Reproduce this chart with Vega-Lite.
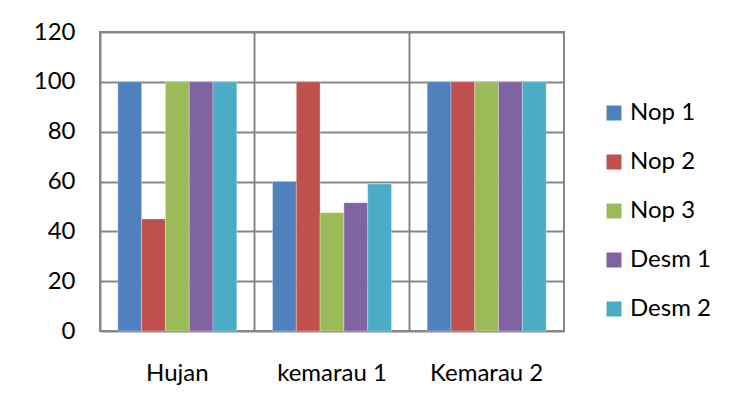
{
  "$schema": "https://vega.github.io/schema/vega-lite/v6.json",
  "autosize": "none",
  "width": 464,
  "height": 299,
  "padding": {"left": 100, "top": 32, "right": 166, "bottom": 85},
  "background": "white",
  "data": {
    "values": [
      {"musim": "Hujan", "seri": "Nop 1", "nilai": 100},
      {"musim": "Hujan", "seri": "Nop 2", "nilai": 45},
      {"musim": "Hujan", "seri": "Nop 3", "nilai": 100},
      {"musim": "Hujan", "seri": "Desm 1", "nilai": 100},
      {"musim": "Hujan", "seri": "Desm 2", "nilai": 100},
      {"musim": "kemarau 1", "seri": "Nop 1", "nilai": 60},
      {"musim": "kemarau 1", "seri": "Nop 2", "nilai": 100},
      {"musim": "kemarau 1", "seri": "Nop 3", "nilai": 47.5},
      {"musim": "kemarau 1", "seri": "Desm 1", "nilai": 51.5},
      {"musim": "kemarau 1", "seri": "Desm 2", "nilai": 59},
      {"musim": "Kemarau 2", "seri": "Nop 1", "nilai": 100},
      {"musim": "Kemarau 2", "seri": "Nop 2", "nilai": 100},
      {"musim": "Kemarau 2", "seri": "Nop 3", "nilai": 100},
      {"musim": "Kemarau 2", "seri": "Desm 1", "nilai": 100},
      {"musim": "Kemarau 2", "seri": "Desm 2", "nilai": 100}
    ]
  },
  "mark": {"type": "bar", "stroke": "white", "strokeWidth": 0.6, "strokeOpacity": 0.5},
  "encoding": {
    "x": {
      "field": "musim",
      "type": "nominal",
      "sort": ["Hujan", "kemarau 1", "Kemarau 2"],
      "scale": {"paddingInner": 0, "paddingOuter": 0},
      "axis": {
        "title": null,
        "labelAngle": 0,
        "bandPosition": 0,
        "grid": true,
        "gridColor": "#878787",
        "gridWidth": 2,
        "domain": false,
        "ticks": false,
        "labelPadding": 30,
        "labelFont": "Lato",
        "labelFontSize": 24,
        "labelColor": "#000000"
      }
    },
    "xOffset": {
      "field": "seri",
      "type": "nominal",
      "sort": ["Nop 1", "Nop 2", "Nop 3", "Desm 1", "Desm 2"],
      "scale": {"paddingInner": 0, "paddingOuter": 0.75}
    },
    "y": {
      "field": "nilai",
      "type": "quantitative",
      "scale": {"domain": [0, 120], "nice": false},
      "axis": {
        "title": null,
        "values": [0, 20, 40, 60, 80, 100, 120],
        "grid": true,
        "gridColor": "#878787",
        "gridWidth": 2,
        "domain": false,
        "ticks": false,
        "labelPadding": 25,
        "labelFont": "Lato",
        "labelFontSize": 24,
        "labelColor": "#000000"
      }
    },
    "color": {
      "field": "seri",
      "type": "nominal",
      "sort": ["Nop 1", "Nop 2", "Nop 3", "Desm 1", "Desm 2"],
      "scale": {"range": ["#4F81BD", "#C0504D", "#9BBB59", "#8064A2", "#4BACC6"]},
      "legend": {
        "title": null,
        "orient": "none",
        "legendX": 502,
        "legendY": 69,
        "symbolType": "square",
        "symbolSize": 225,
        "symbolStrokeWidth": 0,
        "labelOffset": 4,
        "rowPadding": 25,
        "labelFont": "Lato",
        "labelFontSize": 24,
        "labelColor": "#000000"
      }
    }
  },
  "config": {
    "view": {"stroke": "#878787", "strokeWidth": 2}
  }
}
